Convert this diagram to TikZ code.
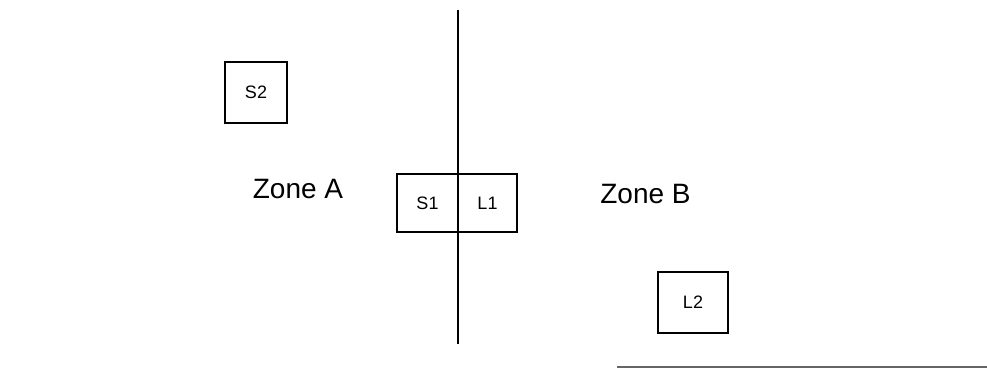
\documentclass[tikz,border=0pt]{standalone}
\usepackage{fontspec}
\setmainfont{Liberation Sans}
\begin{document}
\begin{tikzpicture}[x=1pt,y=-1pt,
  box/.style={draw=black,line width=1.8pt,inner sep=0pt,font=\fontsize{18}{20}\selectfont},
  zone/.style={inner sep=0pt,font=\fontsize{28}{30}\selectfont}]
\useasboundingbox (0,0) rectangle (987,368);
\node[box,minimum width=62pt,minimum height=61pt] (S2) at (256,92.5) {S2};
\node[box,minimum width=61pt,minimum height=58pt] (S1) at (427.5,203) {S1};
\node[box,minimum width=59pt,minimum height=58pt] (L1) at (487.5,203) {L1};
\node[box,minimum width=70pt,minimum height=61pt] (L2) at (693,302.5) {L2};
\node[zone] (ZA) at (298,189) {Zone A};
\node[zone] (ZB) at (645.5,194) {Zone B};
\coordinate (top) at (458,10);
\coordinate (bot) at (458,344);
\draw[line width=2.6pt] (top) -- (bot);
\coordinate (r1) at (617,367);
\coordinate (r2) at (987,367);
\draw[line width=1.2pt,black!60] (r1) -- (r2);
\end{tikzpicture}
\end{document}
